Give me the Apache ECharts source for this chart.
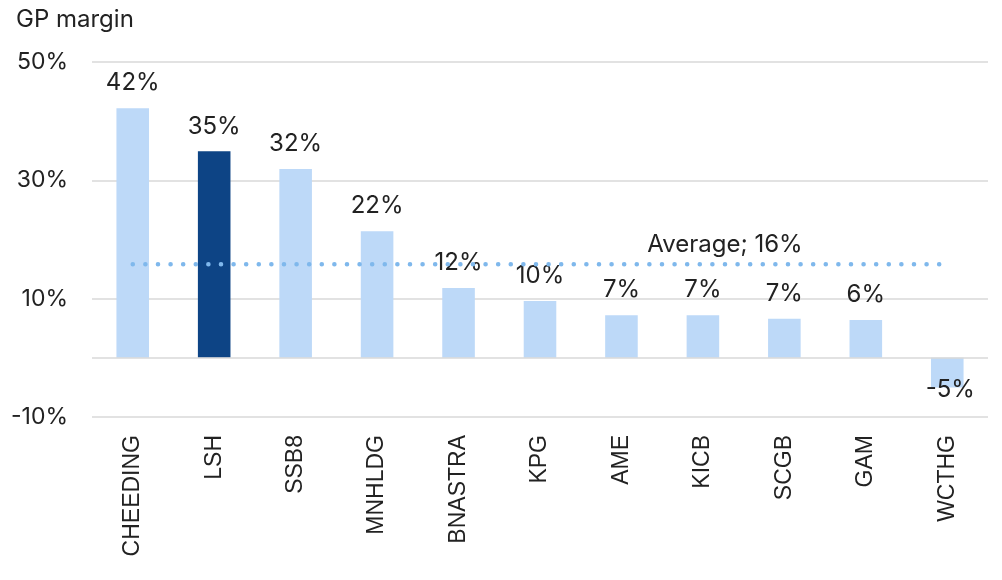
<!DOCTYPE html>
<html><head><meta charset="utf-8">
<script src="https://cdn.jsdelivr.net/npm/echarts@6/dist/echarts.min.js"></script>
<style>html,body{margin:0;padding:0;background:#fff}#c{width:1002px;height:580px}</style>
</head><body><div id="c"></div>
<script>
const categories = ['CHEEDING','LSH','SSB8','MNHLDG','BNASTRA','KPG','AME','KICB','SCGB','GAM','WCTHG'];
const values = [42.2, 34.9, 31.9, 21.4, 11.8, 9.6, 7.2, 7.2, 6.6, 6.4, -5.0];
const labels = ['42%','35%','32%','22%','12%','10%','7%','7%','7%','6%','-5%'];
const highlight = 'LSH';
const average = 15.8;
const averageLabel = 'Average; 16%';
const yTicks = { min: -10, max: 50, interval: 20 };

const chart = echarts.init(document.getElementById('c'));
const font = 'Inter, "Noto Sans", sans-serif';
chart.setOption({
  animation: false,
  title: { text: 'GP margin', left: 11, top: 3, textStyle: { fontFamily: font, fontSize: 24, fontWeight: 'normal', color: '#222' } },
  grid: { left: 92, right: 14, top: 62, bottom: 163, containLabel: false },
  xAxis: {
    type: 'category', data: categories,
    axisLine: { onZero: false, show: false },
    axisTick: { show: false },
    axisLabel: { rotate: 90, margin: 18, fontFamily: 'Liberation Sans, Arial, sans-serif', fontSize: 23, color: '#222' }
  },
  yAxis: {
    type: 'value', min: yTicks.min, max: yTicks.max, interval: yTicks.interval,
    axisLabel: { formatter: v => v + '%', fontFamily: font, fontSize: 23, color: '#222', margin: 24 },
    splitLine: { lineStyle: { color: '#d9d9d9', width: 1.5 } },
    axisLine: { show: false }, axisTick: { show: false }
  },
  series: [
    {
      type: 'bar', barWidth: '40%',
      data: values.map((v, i) => ({
        value: v,
        itemStyle: { color: categories[i] === highlight ? '#0D4485' : '#BDD9F8' },
        label: v < 0 ? { position: 'bottom', offset: [3, -23] } : {}
      })),
      label: { show: true, position: 'top', distance: 13, formatter: p => labels[p.dataIndex], fontFamily: font, fontSize: 24, color: '#222' },
      markLine: { silent: true, symbol: 'none', label: { show: false }, lineStyle: { color: '#d9d9d9', type: 'solid', width: 1.5 }, data: [{ yAxis: 0 }] },
      z: 2
    },
    {
      type: 'line', symbol: 'circle', symbolSize: 0, showSymbol: true, silent: true,
      data: categories.map((c, i) => i === 7 ? {
        value: average,
        label: { show: true, position: 'top', offset: [22, -3], formatter: averageLabel, fontFamily: font, fontSize: 24, color: '#222' }
      } : average),
      lineStyle: { color: '#7FB8EC', width: 4.5, type: [0.1, 12.5], cap: 'round' },
      z: 3
    }
  ]
});
</script></body></html>
